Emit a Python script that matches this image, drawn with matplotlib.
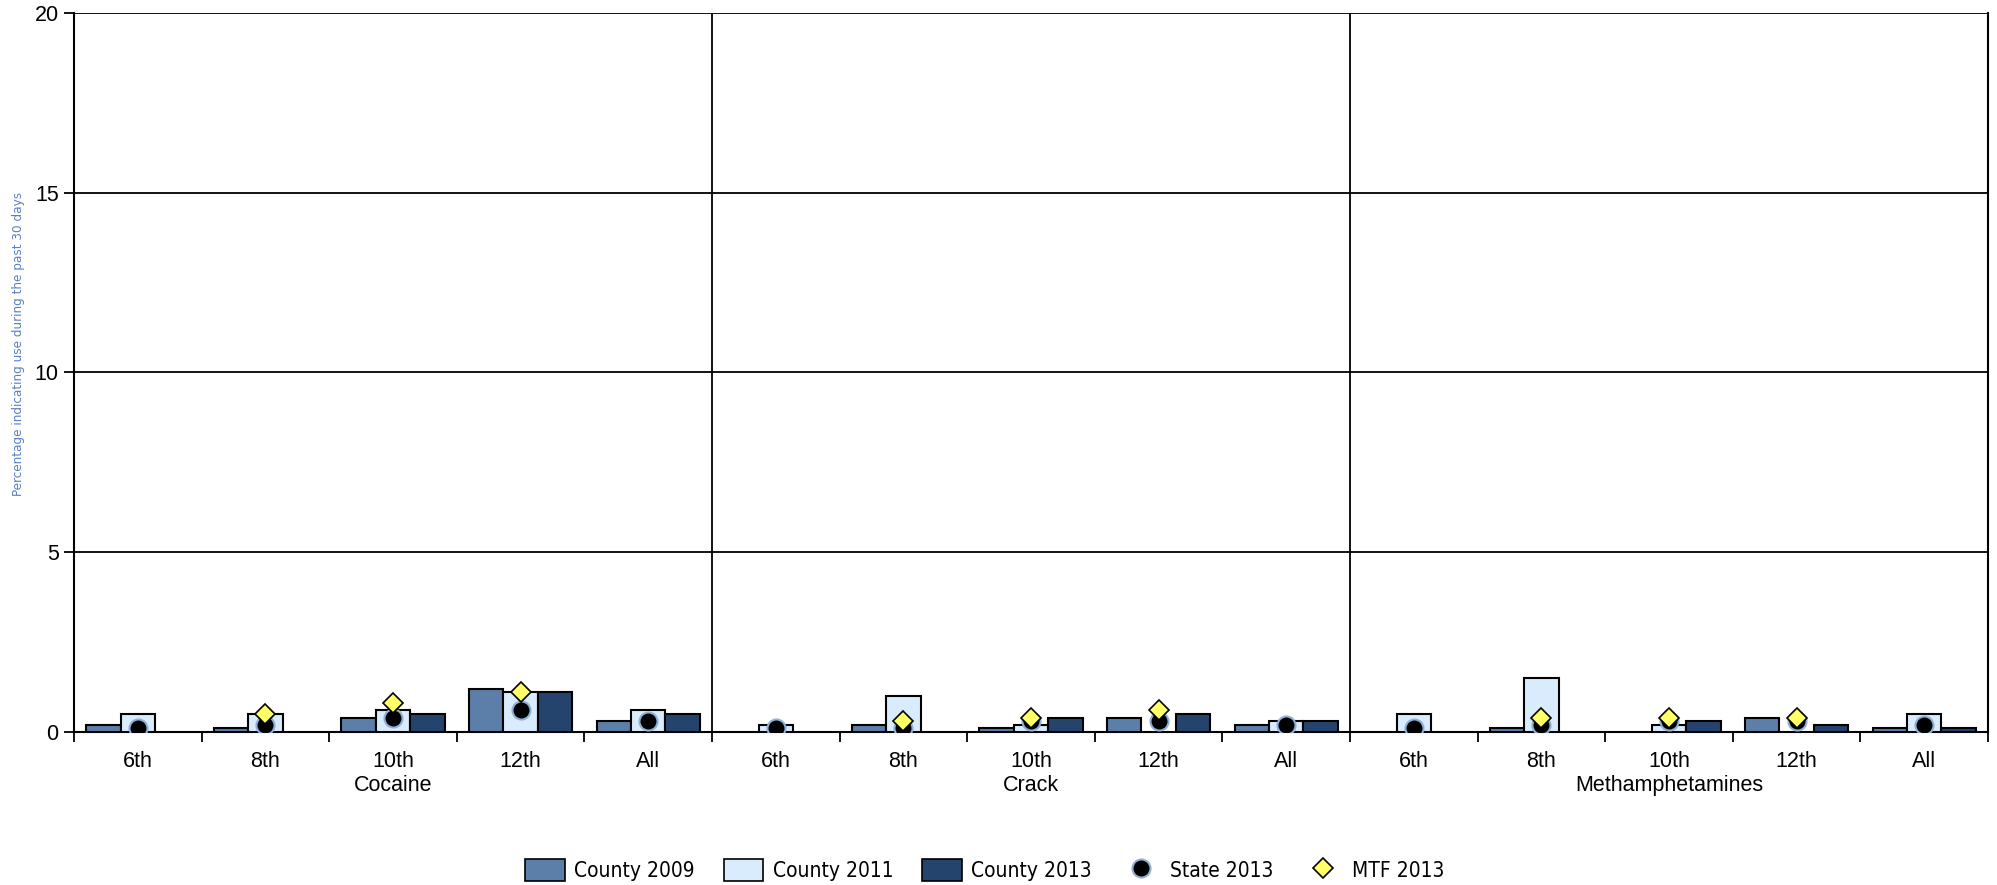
import numpy as np
import matplotlib
matplotlib.use("Agg")
import matplotlib.pyplot as plt
from matplotlib import font_manager as fm
from matplotlib.lines import Line2D
from matplotlib.patches import Patch

# ---- data ----
substances = ["Cocaine", "Crack", "Methamphetamines"]
grades = ["6th", "8th", "10th", "12th", "All"]
nan = np.nan
county_2009 = [0.2, 0.1, 0.4, 1.2, 0.3,
               nan, 0.2, 0.1, 0.4, 0.2,
               nan, 0.1, nan, 0.4, 0.1]
county_2011 = [0.5, 0.5, 0.6, 1.1, 0.6,
               0.2, 1.0, 0.2, nan, 0.3,
               0.5, 1.5, 0.2, nan, 0.5]
county_2013 = [nan, nan, 0.5, 1.1, 0.5,
               nan, nan, 0.4, 0.5, 0.3,
               nan, nan, 0.3, 0.2, 0.1]
state_2013 = [0.1, 0.2, 0.4, 0.6, 0.3,
              0.1, 0.1, 0.3, 0.3, 0.2,
              0.1, 0.2, 0.3, 0.3, 0.2]
mtf_2013 = [nan, 0.5, 0.8, 1.1, nan,
            nan, 0.3, 0.4, 0.6, nan,
            nan, 0.4, 0.4, 0.4, nan]
y_ticks = [0, 5, 10, 15, 20]
series_names = ["County 2009", "County 2011", "County 2013", "State 2013", "MTF 2013"]

# ---- fonts ----
names = {f.name for f in fm.fontManager.ttflist}
if "Liberation Sans Narrow" in names:
    cond = dict(family="Liberation Sans Narrow")
else:
    cond = dict(family="DejaVu Sans", stretch="condensed")
plt.rcParams["font.family"] = ["Liberation Sans", "DejaVu Sans"]

c09, c11, c13 = "#5b7fa8", "#d9ecfd", "#24436d"

fig = plt.figure(figsize=(19.97, 8.85), dpi=100)
ax = fig.add_axes([74/1997, 1-732/885, (1988-74)/1997, (732-12.7)/885])

n = len(county_2009)
x = np.arange(n) + 0.5
w = 0.27
ax.bar(x - w, county_2009, w, color=c09, edgecolor="black", linewidth=1.5, zorder=3)
ax.bar(x, county_2011, w, color=c11, edgecolor="black", linewidth=1.5, zorder=3)
ax.bar(x + w, county_2013, w, color=c13, edgecolor="black", linewidth=1.5, zorder=3)
ax.plot(x, state_2013, "o", ms=13, mfc="black", mec="#8fb0d8", mew=1.5, ls="none", zorder=5)
ax.plot(x, mtf_2013, "D", ms=10.5, mfc="#ffff66", mec="black", mew=1.2, ls="none", zorder=6)

ax.set_xlim(0, n)
ax.set_ylim(0, 20)
ax.set_yticks(y_ticks)
ax.set_yticklabels([str(t) for t in y_ticks], fontsize=15.5)
for t in y_ticks[1:]:
    ax.axhline(t, color="black", lw=1.3, zorder=1)
for v in (5, 10):
    ax.axvline(v, color="black", lw=1.3, zorder=1)

ax.set_xticks(x)
ax.set_xticklabels(grades * 3, fontsize=15.5)
ax.set_xticks(np.arange(n + 1), minor=True)
ax.tick_params(axis="x", which="major", length=0, pad=14)
ax.tick_params(axis="x", which="minor", length=7.5, width=1.3)
ax.tick_params(axis="y", length=7, width=1.3, pad=4)
for s in ["left", "right", "top", "bottom"]:
    ax.spines[s].set_linewidth(1.5)
ax.spines["top"].set_visible(False)

for i, name in enumerate(substances):
    ax.text(i*5 + 2.5, -0.075, name, transform=ax.get_xaxis_transform(),
            ha="center", va="center", fontsize=15.5)

fig.text(19/1997, 1-344/885, "Percentage indicating use during the past 30 days",
         rotation=90, ha="center", va="center", fontsize=9.6, color="#5a7fc4", **cond)

handles = [Patch(facecolor=c09, edgecolor="black", lw=1.2),
           Patch(facecolor=c11, edgecolor="black", lw=1.2),
           Patch(facecolor=c13, edgecolor="black", lw=1.2),
           Line2D([], [], marker="o", ls="none", ms=13, mfc="black", mec="#8fb0d8", mew=1.5),
           Line2D([], [], marker="D", ls="none", ms=10.5, mfc="#ffff66", mec="black", mew=1.2)]
fig.legend(handles, series_names, loc="center", bbox_to_anchor=(0.493, 1-870/885),
           ncol=5, frameon=False, handlelength=1.9, handleheight=1.2, columnspacing=1.4,
           handletextpad=0.45, prop=dict(size=15, **cond))

fig.savefig("out.png", dpi=100)
